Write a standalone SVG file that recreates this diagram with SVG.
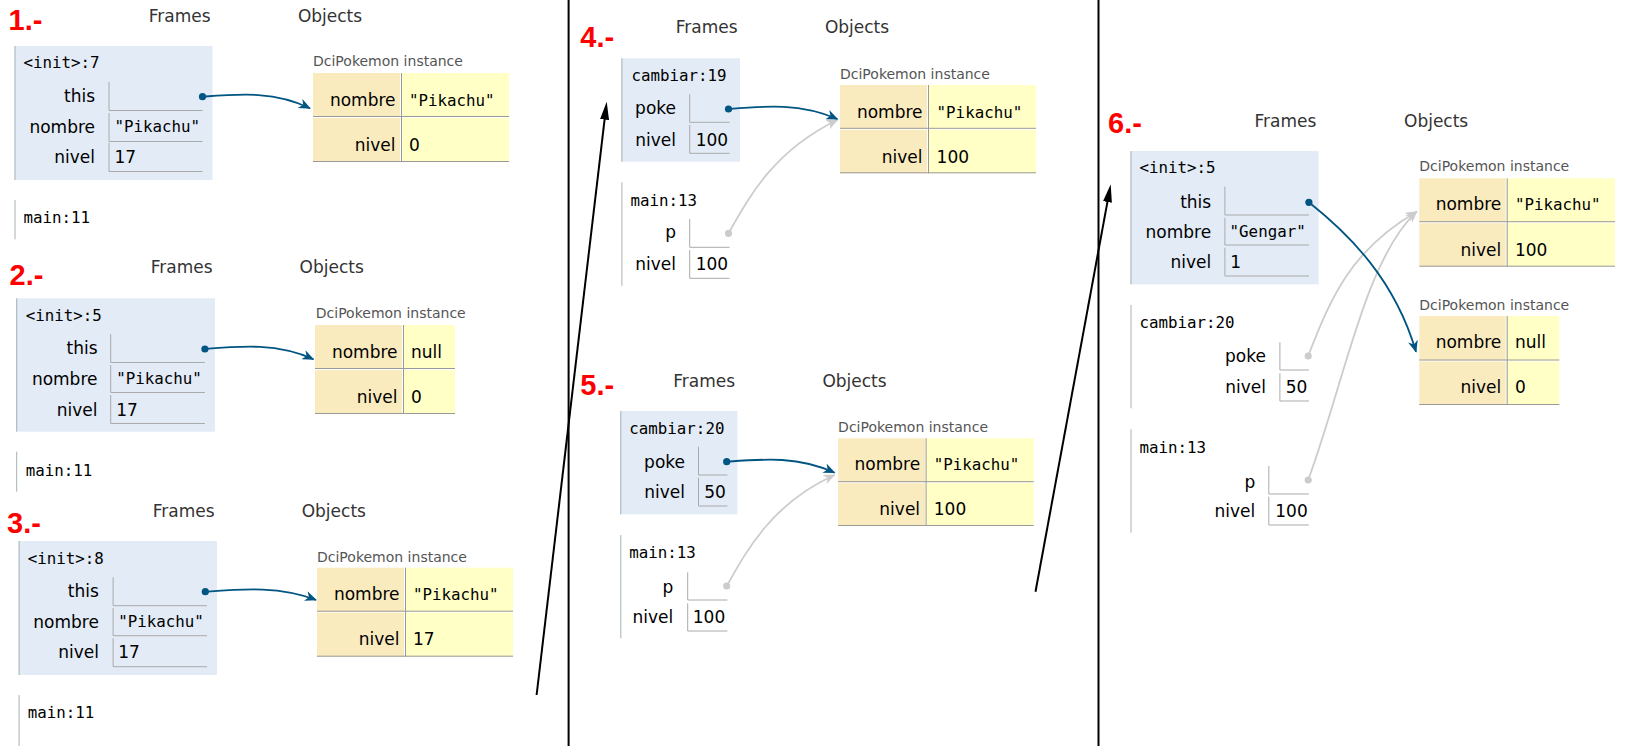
<svg xmlns="http://www.w3.org/2000/svg" width="1633" height="746" viewBox="0 0 1633 746">
<style>
.num{font:bold 29px "Liberation Sans",Arial,sans-serif;fill:#ff0000}
.hdr{font:17px "DejaVu Sans",Verdana,sans-serif;fill:#333}
.ttl{font:15.8px "DejaVu Sans Mono",monospace;fill:#000}
.lbl{font:17px "DejaVu Sans",Verdana,sans-serif;fill:#000;text-anchor:end}
.val{font:17px "DejaVu Sans",Verdana,sans-serif;fill:#000}
.str{font:15.8px "DejaVu Sans Mono",monospace;fill:#000}
.inst{font:14px "DejaVu Sans",Verdana,sans-serif;fill:#555}
.fbox{fill:#e2ebf6}
.fbord{stroke:#a6b3b6;stroke-width:1;fill:none}
.cell{stroke:#aaa;stroke-width:1;fill:none}
.key{fill:#faebbf}
.ival{fill:#ffffc6}
.tl{stroke:#999;stroke-width:1}
.tw{stroke:#fff;stroke-width:1}
.ref{stroke:#005583;stroke-width:1.8;fill:none;marker-end:url(#ah)}
.gref{stroke:#cccccc;stroke-width:1.8;fill:none;marker-end:url(#ahg)}
.bdot{fill:#005583}
.gdot{fill:#cccccc}
.blk{stroke:#000;stroke-width:2;fill:none}
.barr{stroke:#000;stroke-width:2;fill:none;marker-end:url(#ahb)}
</style>
<defs>
<marker id="ah" viewBox="0 0 12 10" refX="11" refY="5" markerWidth="12" markerHeight="10" markerUnits="userSpaceOnUse" orient="auto"><path d="M0,0 L12,5 L0,10 L3.5,5 z" fill="#005583"/></marker>
<marker id="ahg" viewBox="0 0 12 10" refX="11" refY="5" markerWidth="12" markerHeight="10" markerUnits="userSpaceOnUse" orient="auto"><path d="M0,0 L12,5 L0,10 L3.5,5 z" fill="#cccccc"/></marker>
<marker id="ahb" viewBox="0 0 18 9" refX="10" refY="4.5" markerWidth="18" markerHeight="9" markerUnits="userSpaceOnUse" orient="auto"><path d="M0,0 L18,4.5 L0,9 z" fill="#000"/></marker>
</defs>
<rect width="1633" height="746" fill="#fff"/>

<!-- Panel headers -->
<g id="panel1-header"><text class="num" x="8.6" y="30">1.-</text><text class="hdr" x="148.8" y="22">Frames</text><text class="hdr" x="297.9" y="22">Objects</text></g>
<g id="panel2-header"><text class="num" x="9.6" y="285">2.-</text><text class="hdr" x="150.8" y="273.3">Frames</text><text class="hdr" x="299.6" y="273.3">Objects</text></g>
<g id="panel3-header"><text class="num" x="7.1" y="533.3">3.-</text><text class="hdr" x="152.8" y="516.7">Frames</text><text class="hdr" x="301.7" y="516.7">Objects</text></g>
<g id="panel4-header"><text class="num" x="580.3" y="46.7">4.-</text><text class="hdr" x="675.7" y="33.3">Frames</text><text class="hdr" x="824.9" y="33.3">Objects</text></g>
<g id="panel5-header"><text class="num" x="580.3" y="395">5.-</text><text class="hdr" x="673.2" y="386.7">Frames</text><text class="hdr" x="822.4" y="386.7">Objects</text></g>
<g id="panel6-header"><text class="num" x="1108" y="133.3">6.-</text><text class="hdr" x="1254.5" y="126.7">Frames</text><text class="hdr" x="1404" y="126.7">Objects</text></g>

<!-- Panel 1 -->
<g id="p1-init7" transform="translate(14.5,46)">
<rect class="fbox" x="0" y="0" width="198" height="134"/><path class="fbord" d="M0.5,0 V134"/>
<text class="ttl" x="9" y="22.3">&lt;init&gt;:7</text>
<path class="cell" d="M94.5,36 V64.5 H188 M94.5,67 V95.5 H188 M94.5,97 V125.5 H188"/>
<text class="lbl" x="80.5" y="56">this</text><text class="lbl" x="80.5" y="87">nombre</text><text class="lbl" x="80.5" y="117">nivel</text>
<text class="str" x="100" y="86">"Pikachu"</text><text class="val" x="100" y="117">17</text>
</g>
<g id="p1-main11" transform="translate(14.5,200)"><path class="fbord" d="M0.5,0 V39.3"/><text class="ttl" x="9" y="23.3">main:11</text></g>
<g id="p1-obj" transform="translate(313,73)">
<text class="inst" x="0" y="-7">DciPokemon instance</text>
<rect class="key" x="0" y="0" width="88" height="89"/><rect class="ival" x="88" y="0" width="108" height="89"/>
<path class="tw" d="M87.5,0 V89 M0,44.5 H196"/><path class="tl" d="M88.5,0 V89 M0,43.5 H196 M0,88.5 H196"/>
<text class="lbl" x="82.5" y="32.5">nombre</text><text class="lbl" x="82.5" y="78">nivel</text>
<text class="str" x="96" y="32.5">"Pikachu"</text><text class="val" x="96" y="78">0</text>
</g>

<!-- Panel 2 -->
<g id="p2-init5" transform="translate(16.2,298.3)">
<rect class="fbox" x="0" y="0" width="198.7" height="133.4"/><path class="fbord" d="M0.5,0 V133.4"/>
<text class="ttl" x="9.6" y="22.7">&lt;init&gt;:5</text>
<path class="cell" d="M94.5,35.7 V64.2 H188.7 M94.5,66.7 V94.2 H188.7 M94.5,96.7 V125.2 H188.7"/>
<text class="lbl" x="81.3" y="56">this</text><text class="lbl" x="81.3" y="86.7">nombre</text><text class="lbl" x="81.3" y="117.4">nivel</text>
<text class="str" x="100" y="85.7">"Pikachu"</text><text class="val" x="100" y="117.4">17</text>
</g>
<g id="p2-main11" transform="translate(16.2,451.7)"><path class="fbord" d="M0.5,0 V40"/><text class="ttl" x="9.6" y="24.3">main:11</text></g>
<g id="p2-obj" transform="translate(315,325)">
<text class="inst" x="0.8" y="-6.7">DciPokemon instance</text>
<rect class="key" x="0" y="0" width="88" height="89"/><rect class="ival" x="88" y="0" width="52" height="89"/>
<path class="tw" d="M87.5,0 V89 M0,44.5 H140"/><path class="tl" d="M88.5,0 V89 M0,43.5 H140 M0,88.5 H140"/>
<text class="lbl" x="82.5" y="32.7">nombre</text><text class="lbl" x="82.5" y="77.7">nivel</text>
<text class="val" x="96" y="32.7">null</text><text class="val" x="96" y="77.7">0</text>
</g>

<!-- Panel 3 -->
<g id="p3-init8" transform="translate(18.6,541)">
<rect class="fbox" x="0" y="0" width="198.4" height="134"/><path class="fbord" d="M0.5,0 V134"/>
<text class="ttl" x="9.2" y="23">&lt;init&gt;:8</text>
<path class="cell" d="M94.5,36.3 V64.7 H188.4 M94.5,67 V94.7 H188.4 M94.5,97.3 V125.7 H188.4"/>
<text class="lbl" x="80.3" y="56.3">this</text><text class="lbl" x="80.3" y="86.7">nombre</text><text class="lbl" x="80.3" y="117.3">nivel</text>
<text class="str" x="99.7" y="86">"Pikachu"</text><text class="val" x="99.7" y="117.3">17</text>
</g>
<g id="p3-main11" transform="translate(18.6,695)"><path class="fbord" d="M0.5,0 V51"/><text class="ttl" x="9.2" y="23.3">main:11</text></g>
<g id="p3-obj" transform="translate(317,567.7)">
<text class="inst" x="0" y="-6">DciPokemon instance</text>
<rect class="key" x="0" y="0" width="88" height="89"/><rect class="ival" x="88" y="0" width="108" height="89"/>
<path class="tw" d="M87.5,0 V89 M0,44.5 H196"/><path class="tl" d="M88.5,0 V89 M0,43.5 H196 M0,88.5 H196"/>
<text class="lbl" x="82.5" y="32.3">nombre</text><text class="lbl" x="82.5" y="77.3">nivel</text>
<text class="str" x="96" y="32.3">"Pikachu"</text><text class="val" x="96" y="77.3">17</text>
</g>

<!-- Panel 4 -->
<g id="p4-cambiar19" transform="translate(621.4,58.3)">
<rect class="fbox" x="0" y="0" width="118.6" height="103.4"/><path class="fbord" d="M0.5,0 V103.4"/>
<text class="ttl" x="10" y="22.7">cambiar:19</text>
<path class="cell" d="M68.3,36 V64 H108.2 M68.3,66.7 V95 H108.2"/>
<text class="lbl" x="54.6" y="56">poke</text><text class="lbl" x="54.6" y="87.4">nivel</text>
<text class="val" x="74.3" y="87.4">100</text>
</g>
<g id="p4-main13" transform="translate(621.4,182.3)">
<path class="fbord" d="M0.5,0 V103.4"/>
<text class="ttl" x="9" y="23.4">main:13</text>
<path class="cell" d="M68.3,36.7 V65 H108.2 M68.3,67.7 V96 H108.2"/>
<text class="lbl" x="54.6" y="56">p</text><text class="lbl" x="54.6" y="87.7">nivel</text>
<text class="val" x="74.3" y="87.7">100</text>
</g>
<g id="p4-obj" transform="translate(840,85)">
<text class="inst" x="0" y="-6">DciPokemon instance</text>
<rect class="key" x="0" y="0" width="88" height="88.3"/><rect class="ival" x="88" y="0" width="108" height="88.3"/>
<path class="tw" d="M87.5,0 V88.3 M0,44.3 H196"/><path class="tl" d="M88.5,0 V88.3 M0,43.3 H196 M0,87.8 H196"/>
<text class="lbl" x="82.5" y="32.7">nombre</text><text class="lbl" x="82.5" y="77.7">nivel</text>
<text class="str" x="96.6" y="32.7">"Pikachu"</text><text class="val" x="96.6" y="77.7">100</text>
</g>

<!-- Panel 5 -->
<g id="p5-cambiar20" transform="translate(620.3,411)">
<rect class="fbox" x="0" y="0" width="117.1" height="103.3"/><path class="fbord" d="M0.5,0 V103.3"/>
<text class="ttl" x="9" y="23.3">cambiar:20</text>
<path class="cell" d="M78.2,35.7 V64 H107.1 M78.2,66.7 V95 H107.1"/>
<text class="lbl" x="64.7" y="56.7">poke</text><text class="lbl" x="64.7" y="87.3">nivel</text>
<text class="val" x="84" y="87.3">50</text>
</g>
<g id="p5-main13" transform="translate(620.3,535)">
<path class="fbord" d="M0.5,0 V103.3"/>
<text class="ttl" x="9" y="23.3">main:13</text>
<path class="cell" d="M67.4,37.3 V65 H107.1 M67.4,68.3 V96 H107.1"/>
<text class="lbl" x="52.9" y="58.3">p</text><text class="lbl" x="52.9" y="88.3">nivel</text>
<text class="val" x="72.5" y="88.3">100</text>
</g>
<g id="p5-obj" transform="translate(838.1,438.3)">
<text class="inst" x="0" y="-6.6">DciPokemon instance</text>
<rect class="key" x="0" y="0" width="88" height="87.7"/><rect class="ival" x="88" y="0" width="107.6" height="87.7"/>
<path class="tw" d="M87.5,0 V87.7 M0,44.4 H195.6"/><path class="tl" d="M88,0 V87.7 M0,43.4 H195.6 M0,87.2 H195.6"/>
<text class="lbl" x="82" y="31.7">nombre</text><text class="lbl" x="82" y="76.7">nivel</text>
<text class="str" x="95.7" y="31.7">"Pikachu"</text><text class="val" x="95.7" y="76.7">100</text>
</g>

<!-- Panel 6 -->
<g id="p6-init5" transform="translate(1130.5,151)">
<rect class="fbox" x="0" y="0" width="188.1" height="133.3"/><path class="fbord" d="M0.5,0 V133.3"/>
<text class="ttl" x="9" y="22.3">&lt;init&gt;:5</text>
<path class="cell" d="M94.4,35.7 V64 H178.4 M94.4,66.7 V94 H178.4 M94.4,96.7 V125 H178.4"/>
<text class="lbl" x="80.7" y="56.7">this</text><text class="lbl" x="80.7" y="86.7">nombre</text><text class="lbl" x="80.7" y="117.3">nivel</text>
<text class="str" x="99.1" y="85.7">"Gengar"</text><text class="val" x="99.8" y="117.3">1</text>
</g>
<g id="p6-cambiar20" transform="translate(1130.5,305)">
<path class="fbord" d="M0.5,0 V103.3"/>
<text class="ttl" x="9" y="23.3">cambiar:20</text>
<path class="cell" d="M149.4,37.3 V65 H178.4 M149.4,68.3 V96 H178.4"/>
<text class="lbl" x="135.4" y="57.3">poke</text><text class="lbl" x="135.4" y="88.3">nivel</text>
<text class="val" x="155.2" y="88.3">50</text>
</g>
<g id="p6-main13" transform="translate(1130.5,429.3)">
<path class="fbord" d="M0.5,0 V103.4"/>
<text class="ttl" x="9" y="24">main:13</text>
<path class="cell" d="M138.3,36.7 V64.7 H178.4 M138.3,67.4 V95.7 H178.4"/>
<text class="lbl" x="124.7" y="59">p</text><text class="lbl" x="124.7" y="87.4">nivel</text>
<text class="val" x="144.8" y="87.4">100</text>
</g>
<g id="p6-obj1" transform="translate(1419.3,178.3)">
<text class="inst" x="0" y="-7.6">DciPokemon instance</text>
<rect class="key" x="0" y="0" width="87.4" height="88.4"/><rect class="ival" x="87.4" y="0" width="108.3" height="88.4"/>
<path class="tw" d="M86.9,0 V88.4 M0,44.4 H195.7"/><path class="tl" d="M87.9,0 V88.4 M0,43.4 H195.7 M0,87.9 H195.7"/>
<text class="lbl" x="82" y="31.7">nombre</text><text class="lbl" x="82" y="77.7">nivel</text>
<text class="str" x="95.7" y="31.7">"Pikachu"</text><text class="val" x="95.7" y="77.7">100</text>
</g>
<g id="p6-obj2" transform="translate(1419.3,316)">
<text class="inst" x="0" y="-6">DciPokemon instance</text>
<rect class="key" x="0" y="0" width="87.4" height="89"/><rect class="ival" x="87.4" y="0" width="52.6" height="89"/>
<path class="tw" d="M86.9,0 V89 M0,45 H140"/><path class="tl" d="M87.9,0 V89 M0,44 H140 M0,88.5 H140"/>
<text class="lbl" x="82" y="32.3">nombre</text><text class="lbl" x="82" y="77.3">nivel</text>
<text class="val" x="95.7" y="32.3">null</text><text class="val" x="95.7" y="77.3">0</text>
</g>

<!-- Connectors -->
<g id="connectors">
<path class="blk" d="M568.6,0 V746"/>
<path class="blk" d="M1098.5,0 V746"/>
<path class="barr" d="M536.6,695 L605.76,109.64"/>
<path class="barr" d="M1035.5,591.7 L1109.25,192.17"/>

<path class="ref" d="M202.5,96.7 C240,94 275,91 310,108.3"/>
<circle class="bdot" cx="202.5" cy="96.7" r="3.6"/>
<path class="ref" d="M204.9,349 C242,346 278,343 313.4,359.3"/>
<circle class="bdot" cx="204.9" cy="349" r="3.6"/>
<path class="ref" d="M205.3,591.7 C243,589 280,586 316,600"/>
<circle class="bdot" cx="205.3" cy="591.7" r="3.6"/>

<path class="gref" d="M728.5,233.3 C750,195 775,150 837.4,120"/>
<circle class="gdot" cx="728.5" cy="233.3" r="3.6"/>
<path class="ref" d="M728.5,109 C766,106 800,103 837.4,119"/>
<circle class="bdot" cx="728.5" cy="109" r="3.6"/>

<path class="gref" d="M726.7,586 C748,548 773,503 834.5,475"/>
<circle class="gdot" cx="726.7" cy="586" r="3.6"/>
<path class="ref" d="M726.7,461.7 C764,459 798,456 834.5,472.7"/>
<circle class="bdot" cx="726.7" cy="461.7" r="3.6"/>

<path class="gref" d="M1308.2,356 C1330,300 1350,250 1416.7,211.7"/>
<circle class="gdot" cx="1308.2" cy="356" r="3.6"/>
<path class="gref" d="M1308.2,480 C1345,380 1365,260 1416.7,211.7"/>
<circle class="gdot" cx="1308.2" cy="480" r="3.6"/>
<path class="ref" d="M1308.9,202.3 C1350,235 1395,280 1416,351.7"/>
<circle class="bdot" cx="1308.9" cy="202.3" r="3.6"/>
</g>
</svg>
